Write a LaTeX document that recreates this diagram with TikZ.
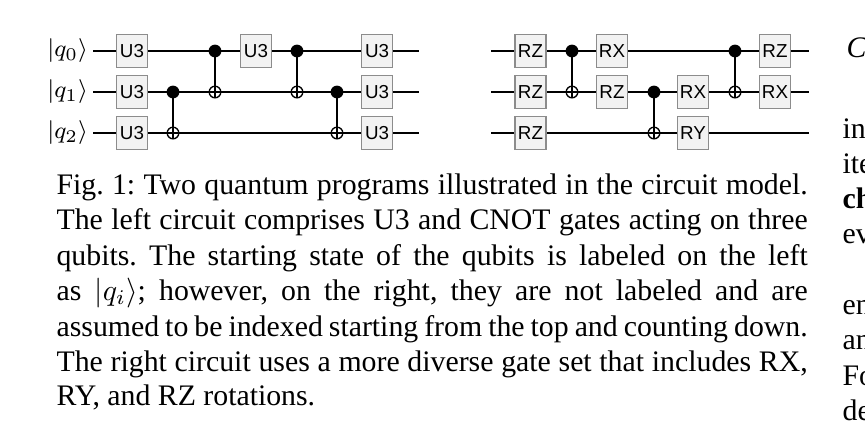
\documentclass[tikz,border=0pt]{standalone}
\usepackage{amsmath}
\usepackage{fontspec}
\setmainfont{Liberation Serif}
\newfontfamily\gatefont{Liberation Sans}
\definecolor{gateedge}{HTML}{8C8C8C}
\definecolor{gatefill}{HTML}{F2F2F2}
\tikzset{
  wire/.style={line width=0.45pt},
  gate/.style={draw=gateedge, fill=gatefill, line width=0.55pt, minimum width=10.4pt,
    minimum height=11.1pt, inner sep=0pt, font=\gatefont\fontsize{6.3}{7}\selectfont},
  ctrl/.style={circle, fill=black, inner sep=0pt, minimum size=4.3pt},
  targ/.style={circle, draw=black, line width=0.45pt, inner sep=0pt, minimum size=3.9pt},
  ket/.style={anchor=east, inner sep=0pt, font=\fontsize{8}{9.6}\selectfont},
  capline/.style={anchor=base west, inner sep=0pt, font=\fontsize{10}{12}\selectfont\frenchspacing},
}
\newcommand\cnotat[4]{%
  \node[ctrl] (#1c) at (#2,#3) {};
  \node[targ] (#1t) at (#2,#4) {};
  \draw[wire] (#1c.center) -- (#1t.south);}
\begin{document}
\begin{tikzpicture}[x=0.3355pt, y=-0.3355pt]
\useasboundingbox (0,0) rectangle (865,447);
% ---------- left circuit ----------
\node[ket] (l0) at (88.5,51) {$|q_0\rangle$};
\node[ket] (l1) at (88.5,92) {$|q_1\rangle$};
\node[ket] (l2) at (88.5,133) {$|q_2\rangle$};
\coordinate (le0) at (419,51);
\coordinate (le1) at (419,92);
\coordinate (le2) at (419,133);
\draw[wire] ([xshift=1.6pt]l0.east) -- (le0);
\draw[wire] ([xshift=1.6pt]l1.east) -- (le1);
\draw[wire] ([xshift=1.6pt]l2.east) -- (le2);
\cnotat{a}{173}{92}{133}
\cnotat{b}{215}{51}{92}
\cnotat{c}{297}{51}{92}
\cnotat{d}{337}{92}{133}
\node[gate] (u1) at (132,51) {U3};
\node[gate] (u2) at (132,92) {U3};
\node[gate] (u3) at (132,133) {U3};
\node[gate] (u4) at (256,51) {U3};
\node[gate] (u5) at (377,51) {U3};
\node[gate] (u6) at (377,92) {U3};
\node[gate] (u7) at (377,133) {U3};
% ---------- right circuit ----------
\coordinate (rs0) at (491,51);
\coordinate (rs1) at (491,92);
\coordinate (rs2) at (491,133);
\coordinate (re0) at (809,51);
\coordinate (re1) at (809,92);
\coordinate (re2) at (809,133);
\draw[wire] (rs0) -- (re0);
\draw[wire] (rs1) -- (re1);
\draw[wire] (rs2) -- (re2);
\cnotat{e}{572}{51}{92}
\cnotat{f}{654}{92}{133}
\cnotat{g}{735}{51}{92}
\node[gate] (r1) at (530.5,51) {RZ};
\node[gate] (r2) at (530.5,92) {RZ};
\node[gate] (r3) at (530.5,133) {RZ};
\node[gate] (r4) at (612,51) {RX};
\node[gate] (r5) at (612,92) {RZ};
\node[gate] (r6) at (693,92) {RX};
\node[gate] (r7) at (693,133) {RY};
\node[gate] (r8) at (775,51) {RZ};
\node[gate] (r9) at (775,92) {RX};
% ---------- caption ----------
\node[capline] (c1) at (56,194) {\makebox[252pt][s]{Fig. 1: Two quantum programs illustrated in the circuit model.}};
\node[capline] (c2) at (56,229.5) {\makebox[252pt][s]{The left circuit comprises U3 and CNOT gates acting on three}};
\node[capline] (c3) at (56,265) {\makebox[252pt][s]{qubits. The starting state of the qubits is labeled on the left}};
\node[capline] (c4) at (56,300.5) {\makebox[252pt][s]{as $|q_i\rangle$; however, on the right, they are not labeled and are}};
\node[capline] (c5) at (56,336) {\makebox[252pt][s]{assumed to be indexed starting from the top and counting down.}};
\node[capline] (c6) at (56,371.5) {\makebox[252pt][s]{The right circuit uses a more diverse gate set that includes RX,}};
\node[capline] (c7) at (56,405.5) {RY, and RZ rotations.};
% ---------- right column fragments ----------
\node[capline] (h1) at (846,57) {\itshape C};
\node[capline] (t1) at (842,138) {in};
\node[capline] (t2) at (842,173.3) {ite};
\node[capline] (t3) at (842,208.6) {\bfseries ch};
\node[capline] (t4) at (842,243.9) {ev};
\node[capline] (t5) at (842,314.5) {en};
\node[capline] (t6) at (842,349.8) {an};
\node[capline] (t7) at (842,385.1) {Fo};
\node[capline] (t8) at (842,420.4) {de};
\end{tikzpicture}
\end{document}
